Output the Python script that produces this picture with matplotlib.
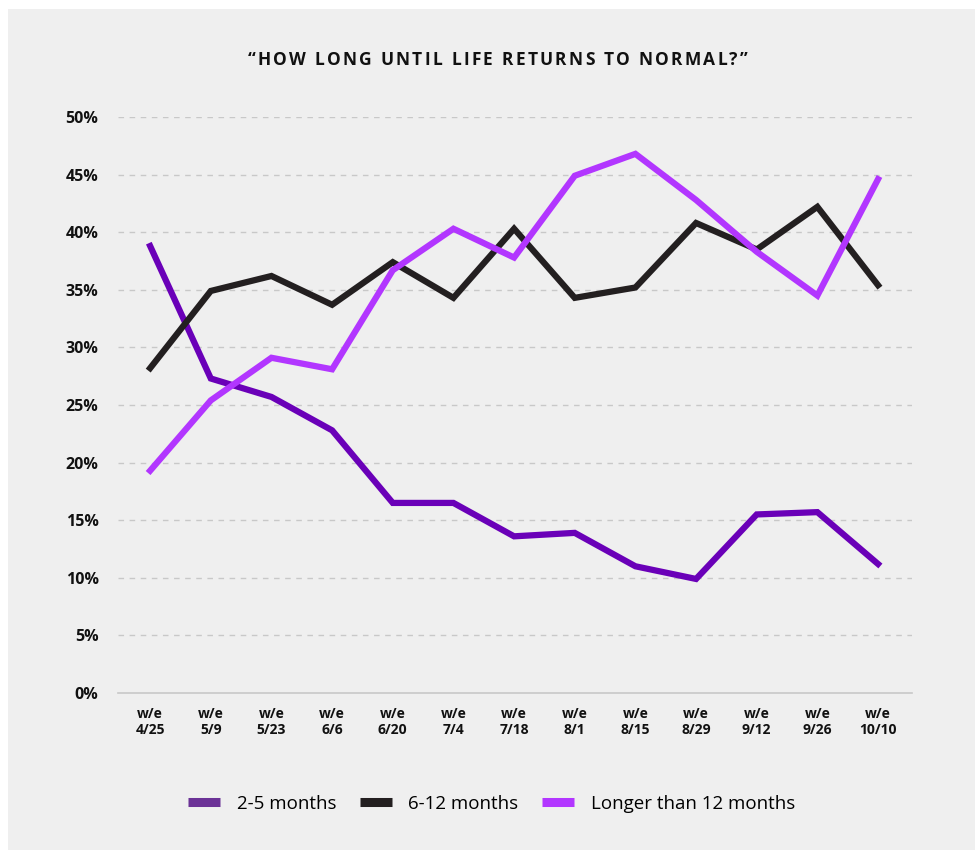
import matplotlib.pyplot as plt
from matplotlib.lines import Line2D
from matplotlib.patches import Rectangle

weeks = ["w/e\n4/25", "w/e\n5/9", "w/e\n5/23", "w/e\n6/6", "w/e\n6/20", "w/e\n7/4", "w/e\n7/18",
         "w/e\n8/1", "w/e\n8/15", "w/e\n8/29", "w/e\n9/12", "w/e\n9/26", "w/e\n10/10"]
two_to_five = [38.8, 27.3, 25.7, 22.8, 16.5, 16.5, 13.6, 13.9, 11.0, 9.9, 15.5, 15.7, 11.2]
six_to_twelve = [28.2, 34.9, 36.2, 33.7, 37.4, 34.3, 40.3, 34.3, 35.2, 40.8, 38.5, 42.2, 35.4]
longer = [19.3, 25.4, 29.1, 28.1, 36.7, 40.3, 37.8, 44.9, 46.8, 42.8, 38.3, 34.5, 44.6]
labels = ["2-5 months", "6-12 months", "Longer than 12 months"]
line_colors = ["#6a00b8", "#231f20", "#b236ff"]
legend_colors = ["#6b3296", "#231f20", "#b236ff"]
title = "\u201cHOW LONG UNTIL LIFE RETURNS TO NORMAL?\u201d"

bg = "#efefef"
plt.rcParams["font.family"] = ["Open Sans", "DejaVu Sans"]

fig = plt.figure(figsize=(9.75, 8.5), dpi=100, facecolor="white")
fig.patches.append(Rectangle((8 / 975, 0), 1 - 8 / 975, 1 - 9 / 850, transform=fig.transFigure,
                             facecolor=bg, edgecolor="none", zorder=-1))

ax = fig.add_axes([118 / 975, 1 - 693 / 850, (912 - 118) / 975, (693 - 117) / 850])
ax.set_facecolor(bg)

x = range(len(weeks))
for vals, c in zip([two_to_five, six_to_twelve, longer], line_colors):
    ax.plot(x, vals, color=c, linewidth=4.5, solid_joinstyle="miter", zorder=3)

ax.set_xlim(-0.53, 12.56)
ax.set_ylim(0, 50)
ax.set_yticks(range(0, 51, 5))
ax.set_yticklabels([f"{v}%" for v in range(0, 51, 5)], fontsize=11.5, fontweight="bold", color="#111111")
ax.set_xticks(list(x))
ax.set_xticklabels(weeks, fontsize=10, fontweight="bold", color="#111111", linespacing=1.2)
ax.tick_params(axis="both", length=0)
ax.tick_params(axis="y", pad=14)
ax.tick_params(axis="x", pad=10)

ax.grid(axis="y", color="#c8c8c8", linestyle=(0, (4, 4)), linewidth=1)
ax.grid(axis="x", visible=False)
for s in ["top", "right", "left"]:
    ax.spines[s].set_visible(False)
ax.spines["bottom"].set_color("#c8c8c8")
ax.spines["bottom"].set_linewidth(1.2)
ax.yaxis.get_gridlines()[0].set_visible(False)

# title with letter spacing: place characters one by one
renderer = fig.canvas.get_renderer()
tsize = 12.5


def text_width(s):
    t = fig.text(0, 0, s, fontsize=tsize, fontweight="bold")
    w = t.get_window_extent(renderer).width
    t.remove()
    return w


ref_w = text_width("H")
offsets = [text_width(title[:i] + "H") - ref_w if i > 0 else 0 for i in range(len(title))]
natural = text_width(title)
tracking = (500 - natural) / (len(title) - 1)
left = 497.5 - 500 / 2
for i, ch in enumerate(title):
    fig.text((left + offsets[i] + i * tracking) / 975, 1 - 60 / 850, ch, ha="left", va="center",
             fontsize=tsize, fontweight="bold", color="#111111")

handles = [Line2D([0], [0], color=c, linewidth=6.5, solid_capstyle="butt") for c in legend_colors]
fig.legend(handles, labels, loc="center", bbox_to_anchor=(491.5 / 975, 1 - 804 / 850), ncol=3, frameon=False,
           fontsize=13.5, handlelength=1.7, columnspacing=1.25, handletextpad=0.9)

fig.savefig("out.png", dpi=100, facecolor="white")
